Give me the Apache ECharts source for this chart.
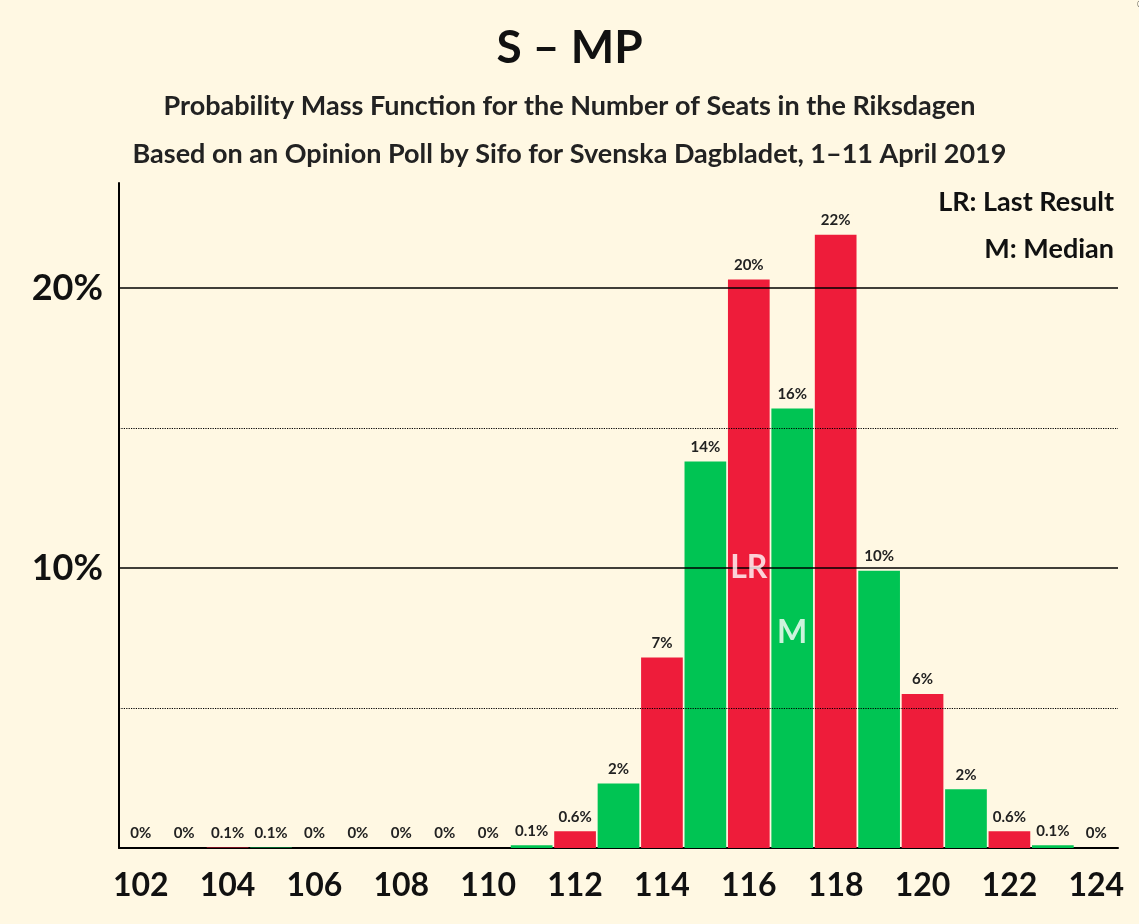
<!DOCTYPE html>
<html><head><meta charset="utf-8">
<script src="https://cdn.jsdelivr.net/npm/echarts@6/dist/echarts.min.js"></script>
<style>body{margin:0;background:#FFF8E3}#c{width:1139px;height:924px}</style>
</head><body><div id="c"></div>
<script>
const seats = ['102','103','104','105','106','107','108','109','110','111','112','113','114','115','116','117','118','119','120','121','122','123','124']
const probs = [0,0,0.02,0.02,0,0,0,0,0,0.1,0.6,2.3,6.8,13.8,20.3,15.7,21.9,9.9,5.5,2.1,0.6,0.1,0]
const labels = ['0%','0%','0.1%','0.1%','0%','0%','0%','0%','0%','0.1%','0.6%','2%','7%','14%','20%','16%','22%','10%','6%','2%','0.6%','0.1%','0%']
const marks = [['116', 10, 'LR'], ['117', 7.7, 'M']]
const red = '#EE1C3A', green = '#00C453'

let chart = echarts.init(document.getElementById('c'))
chart.setOption({
  backgroundColor: '#FFF8E3',
  textStyle: {fontFamily: 'Lato'},
  title: [
    {text: 'S – MP', left: 'center', top: 20, textStyle: {fontSize: 46, fontWeight: 'bold', color: '#111'}},
    {text: 'Probability Mass Function for the Number of Seats in the Riksdagen', left: 'center', top: 88, textStyle: {fontSize: 27, fontWeight: 'bold', color: '#222'}},
    {text: 'Based on an Opinion Poll by Sifo for Svenska Dagbladet, 1–11 April 2019', left: 'center', top: 136, textStyle: {fontSize: 27, fontWeight: 'bold', color: '#222'}},
    {text: 'LR: Last Result', right: 20, top: 184, textStyle: {fontSize: 27, fontWeight: 'bold', color: '#111'}},
    {text: 'M: Median', right: 20, top: 231, textStyle: {fontSize: 27, fontWeight: 'bold', color: '#111'}}
  ],
  graphic: [{type: 'text', x: 1137, y: 8, rotation: Math.PI / 2,
    style: {text: '© 2019 Filip van Laenen', fontSize: 10, fill: '#333', fontFamily: 'Lato', align: 'left'}}],
  grid: {left: 119, right: 21, top: 183, bottom: 76},
  xAxis: {type: 'category', data: seats,
    axisLine: {lineStyle: {color: '#000', width: 2}}, axisTick: {show: false},
    axisLabel: {interval: 1, fontSize: 32, fontWeight: 'bold', color: '#111', margin: 22}},
  yAxis: {type: 'value', min: 0, max: 23.75, interval: 5,
    axisLine: {show: true, lineStyle: {color: '#000', width: 2}}, axisTick: {show: false},
    axisLabel: {fontSize: 36, fontWeight: 'bold', color: '#111', margin: 16,
      formatter: v => (v === 10 || v === 20) ? v + '%' : ''},
    splitLine: {show: false}},
  series: [
    {type: 'bar', barCategoryGap: '4%',
      data: probs.map((p, i) => ({value: p, itemStyle: {color: (+seats[i]) % 2 === 0 ? red : green}})),
      label: {show: true, position: 'top', fontSize: 15, fontWeight: 'bold', color: '#222',
        backgroundColor: '#FFF8E3', padding: [2, 2],
        formatter: p => labels[p.dataIndex]},
      markLine: {silent: true, symbol: 'none', label: {show: false},
        data: [
          {yAxis: 10, lineStyle: {type: 'solid', color: '#000', width: 1.5}},
          {yAxis: 20, lineStyle: {type: 'solid', color: '#000', width: 1.5}},
          {yAxis: 5, lineStyle: {type: 'dotted', color: '#000', width: 1.2}},
          {yAxis: 15, lineStyle: {type: 'dotted', color: '#000', width: 1.2}}
        ]},
      z: 2},
    {type: 'scatter', symbolSize: 0,
      data: marks.map(m => [m[0], m[1], m[2]]),
      label: {show: true, position: 'inside', fontSize: 32, fontWeight: 'bold', color: '#fff',
        formatter: p => p.data[2]}, z: 5}
  ]
})
</script></body></html>
